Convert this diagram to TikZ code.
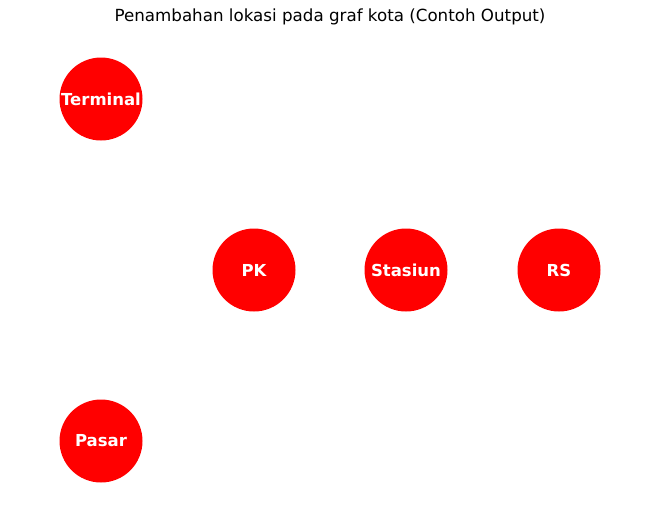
\documentclass[tikz,border=0pt]{standalone}
\usepackage{fontspec}
\setmainfont{DejaVu Sans}
\usepackage{tikz}
\usepackage{xcolor}

\tikzset{
  lokasi/.style={circle,fill=red,text=white,minimum size=83pt,inner sep=0pt,
    font=\fontsize{16.5}{19}\selectfont\bfseries},
}

\begin{document}
\begin{tikzpicture}[x=1pt,y=-1pt]
        \useasboundingbox (0,0) rectangle (660,520);

        % Title
        \node[font=\fontsize{16.7}{19}\selectfont] (judul) at (330,17) {Penambahan lokasi pada graf kota (Contoh Output)};

        % Locations
        \node[lokasi] (terminal) at (101,99) {Terminal};
        \node[lokasi] (pk) at (254,270) {PK};
        \node[lokasi] (stasiun) at (406,270) {Stasiun};
        \node[lokasi] (rs) at (559,270) {RS};
        \node[lokasi] (pasar) at (101,441) {Pasar};
    \end{tikzpicture}
\end{document}
